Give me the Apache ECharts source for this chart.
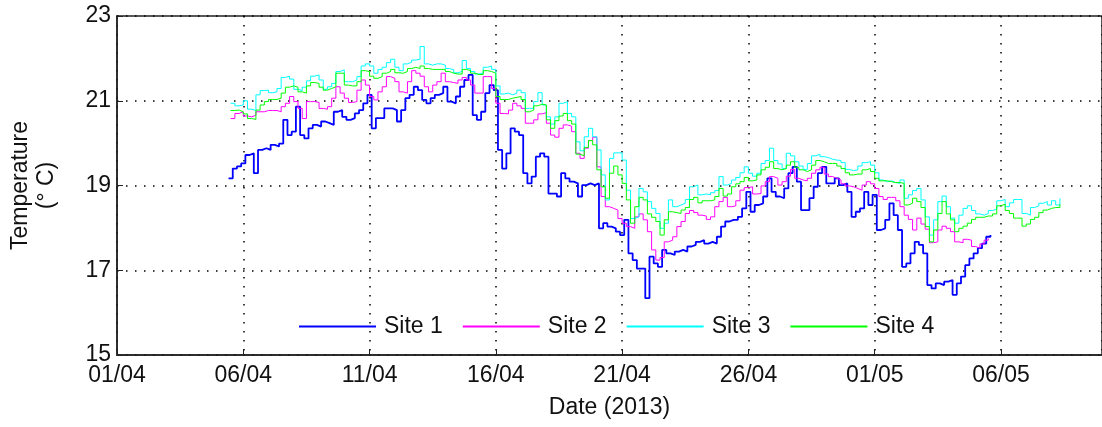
<!DOCTYPE html>
<html>
<head>
<meta charset="utf-8">
<script src="https://cdn.jsdelivr.net/npm/echarts@6/dist/echarts.min.js"></script>
<style>
  html, body { margin: 0; padding: 0; background: #fff; }
  #tempChart { width: 1102px; height: 427px; }
</style>
</head>
<body>
<div id="tempChart"></div>
<script>
const stepHours = 4;
const site1Start = '2013-04-05 10:00';
const site234Start = '2013-04-05 12:00';

const site1 = [
  19.17, 19.40, 19.45, 19.52, 19.72, 19.76, 19.29, 19.84, 19.88, 19.84, 19.96, 19.92, 19.99, 20.55, 20.19, 20.27, 20.86, 20.19, 20.11, 20.35,
  20.43, 20.39, 20.51, 20.47, 20.43, 20.74, 20.78, 20.62, 20.55, 20.59, 20.70, 20.78, 20.94, 21.14, 20.35, 20.59, 20.59, 20.82,
  20.82, 20.78, 20.51, 20.78, 21.06, 21.14, 21.33, 21.25, 21.02, 20.94, 21.06, 21.14, 21.18, 21.33, 20.98, 20.94, 21.10, 21.33, 21.49, 21.61,
  20.66, 20.55, 20.74, 21.18, 21.37, 21.25, 19.84, 19.40, 19.76, 20.35, 20.27, 20.19, 19.29, 19.05, 19.21, 19.68, 19.76, 19.68, 18.81,
  18.81, 18.74, 19.29, 19.17, 19.09, 19.05, 18.74, 19.01, 19.05, 19.01, 19.05, 17.99, 18.11, 18.03, 17.99, 17.91, 17.83, 18.19, 17.40, 17.24,
  17.04, 17.04, 16.34, 17.32, 17.16, 17.08, 17.48, 17.40, 17.36, 17.44, 17.48, 17.44, 17.56, 17.60, 17.67, 17.71, 17.63, 17.67, 17.63,
  17.79, 18.03, 18.15, 18.19, 18.19, 18.26, 18.46, 18.85, 18.38, 18.54, 18.58, 18.74, 19.17, 18.85, 18.74, 18.70, 18.93, 19.29, 19.44, 19.09,
  18.42, 18.42, 18.70, 18.97, 19.29, 19.44, 19.05, 19.05, 19.17, 19.01, 19.05, 18.85, 18.26, 18.38, 18.46, 18.85, 18.54, 18.78, 17.95,
  17.99, 18.19, 18.58, 18.30, 17.95, 17.08, 17.16, 17.40, 17.67, 17.60, 17.40, 16.65, 16.57, 16.69, 16.65, 16.73, 16.77, 16.42, 16.69, 16.85,
  17.12, 17.28, 17.40, 17.52, 17.63, 17.79, 17.83
];

const site2 = [
  20.58, 20.70, 20.74, 20.64, 20.62, 20.66, 20.74, 20.74, 20.77, 20.77, 20.77, 20.74, 20.86, 20.94, 21.10, 20.98, 20.82, 20.58, 20.98, 20.98,
  20.96, 20.82, 20.80, 20.86, 21.06, 21.33, 21.18, 21.06, 20.96, 20.98, 21.25, 21.49, 21.37, 21.10, 21.02, 21.21, 21.33, 21.57,
  21.53, 21.45, 21.21, 21.18, 21.45, 21.71, 21.65, 21.58, 21.33, 21.21, 21.37, 21.45, 21.65, 21.45, 21.43, 21.41, 21.49, 21.55, 21.49, 21.37,
  21.18, 21.18, 21.57, 21.57, 21.29, 20.94, 20.70, 20.69, 20.78, 20.94, 20.88, 20.82, 20.47, 20.47, 20.55, 20.69, 20.72, 20.47, 20.19,
  20.14, 20.35, 20.43, 20.40, 20.27, 19.76, 19.64, 19.88, 20.06, 20.14, 19.44, 18.74, 18.50, 18.46, 18.42, 18.22, 18.11, 18.03, 17.99, 18.26,
  18.33, 18.19, 17.91, 17.48, 17.24, 17.30, 17.67, 17.71, 17.79, 18.03, 18.15, 18.34, 18.41, 18.36, 18.30, 18.28, 18.20, 18.26, 18.50,
  18.62, 18.72, 18.50, 18.52, 18.64, 18.89, 18.95, 18.97, 18.80, 18.81, 18.99, 19.09, 19.21, 19.17, 19.01, 19.09, 19.22, 19.38, 19.17, 19.13,
  19.11, 19.17, 19.29, 19.37, 19.43, 19.27, 19.21, 19.17, 19.13, 19.04, 18.99, 18.97, 18.93, 18.89, 19.01, 19.09, 19.04, 18.93,
  18.74, 18.67, 18.72, 18.72, 18.64, 18.50, 18.30, 18.20, 17.95, 18.23, 18.09, 17.97, 17.65, 17.67, 17.95, 18.04, 17.99, 17.91, 17.67, 17.65,
  17.73, 17.71, 17.56, 17.52, 17.62, 17.71, 17.75
];

const site3 = [
  20.94, 20.88, 20.90, 21.00, 20.80, 20.77, 21.14, 21.24, 21.25, 21.19, 21.21, 21.29, 21.55, 21.58, 21.51, 21.27, 21.24, 21.32, 21.47, 21.58,
  21.61, 21.49, 21.27, 21.33, 21.41, 21.69, 21.73, 21.45, 21.45, 21.49, 21.57, 21.82, 21.87, 21.82, 21.65, 21.74, 21.79, 21.90,
  21.98, 21.79, 21.71, 21.87, 21.91, 21.96, 21.98, 22.28, 21.87, 21.84, 21.87, 21.87, 21.84, 21.76, 21.73, 21.66, 21.69, 21.95, 21.76, 21.69,
  21.63, 21.65, 21.79, 21.82, 21.74, 21.35, 21.16, 21.18, 21.14, 21.18, 21.25, 21.19, 20.82, 20.82, 20.98, 21.19, 20.90, 20.62, 20.45,
  20.62, 20.94, 20.98, 20.70, 20.62, 20.03, 19.82, 20.15, 20.35, 20.15, 19.84, 19.25, 18.66, 19.64, 19.77, 19.77, 19.60, 18.89, 18.22, 18.26,
  18.93, 18.85, 18.62, 18.46, 18.34, 17.99, 18.11, 18.66, 18.50, 18.54, 18.58, 18.67, 18.97, 19.01, 18.78, 18.80, 18.78, 18.83, 18.88,
  19.21, 19.01, 19.05, 19.13, 19.19, 19.30, 19.44, 19.29, 19.22, 19.29, 19.52, 19.59, 19.88, 19.59, 19.51, 19.40, 19.76, 19.70, 19.56, 19.46,
  19.38, 19.52, 19.70, 19.74, 19.68, 19.66, 19.62, 19.60, 19.59, 19.54, 19.38, 19.35, 19.37, 19.46, 19.54, 19.56, 19.48, 19.30,
  19.13, 19.09, 19.11, 19.07, 19.05, 19.13, 18.70, 18.78, 18.88, 18.93, 18.66, 18.26, 17.83, 18.19, 18.62, 18.75, 18.50, 18.23, 18.11, 18.30,
  18.46, 18.52, 18.41, 18.33, 18.30, 18.34, 18.41, 18.44, 18.64, 18.67, 18.50, 18.59, 18.67, 18.67, 18.34, 18.30, 18.48, 18.52, 18.58, 18.62,
  18.54, 18.64, 18.54, 18.70
];

const site4 = [
  20.77, 20.78, 20.74, 20.69, 20.58, 20.56, 20.78, 20.90, 20.98, 21.03, 21.03, 21.06, 21.18, 21.32, 21.35, 21.32, 21.21, 21.18, 21.35, 21.43,
  21.41, 21.32, 21.25, 21.29, 21.33, 21.65, 21.65, 21.37, 21.35, 21.35, 21.45, 21.71, 21.69, 21.58, 21.53, 21.57, 21.65, 21.69,
  21.74, 21.66, 21.65, 21.69, 21.76, 21.79, 21.76, 21.82, 21.76, 21.74, 21.74, 21.74, 21.74, 21.69, 21.65, 21.63, 21.63, 21.74, 21.71, 21.65,
  21.62, 21.62, 21.71, 21.69, 21.65, 21.10, 21.03, 21.03, 21.06, 21.08, 21.10, 21.03, 20.74, 20.78, 20.88, 20.92, 20.90, 20.55, 20.35,
  20.53, 20.64, 20.70, 20.53, 20.45, 19.74, 19.70, 19.90, 20.06, 19.96, 19.37, 18.97, 18.70, 19.29, 19.46, 19.25, 19.05, 18.66, 18.11, 18.50,
  18.72, 18.66, 18.33, 18.25, 18.15, 17.83, 18.19, 18.38, 18.36, 18.34, 18.42, 18.48, 18.67, 18.72, 18.59, 18.64, 18.64, 18.66, 18.74,
  18.93, 18.75, 18.80, 18.97, 19.04, 19.09, 19.19, 19.11, 19.13, 19.25, 19.37, 19.43, 19.56, 19.40, 19.37, 19.40, 19.48, 19.56, 19.43, 19.37,
  19.33, 19.37, 19.48, 19.59, 19.56, 19.52, 19.52, 19.52, 19.46, 19.40, 19.30, 19.25, 19.27, 19.27, 19.37, 19.40, 19.33, 19.17,
  19.11, 19.11, 19.09, 19.07, 19.07, 19.05, 18.54, 18.58, 18.70, 18.62, 18.48, 18.03, 17.67, 17.95, 18.34, 18.62, 18.33, 18.19, 17.91, 17.99,
  18.04, 18.11, 18.20, 18.25, 18.25, 18.28, 18.28, 18.33, 18.52, 18.56, 18.41, 18.34, 18.23, 18.23, 18.04, 18.09, 18.20, 18.25, 18.36, 18.42,
  18.46, 18.48, 18.48, 18.56
];

const siteNames = ['Site 1', 'Site 2', 'Site 3', 'Site 4'];
const siteColors = ['#0000ff', '#ff00ff', '#00ffff', '#00ff00'];

// x axis is in days since 01/04/2013
const DAY = 86400000;
const origin = Date.UTC(2013, 3, 1);

function toDays(str) {
  const [d, t] = str.split(' ');
  const [Y, M, D] = d.split('-').map(Number);
  const [h, m] = t.split(':').map(Number);
  return (Date.UTC(Y, M - 1, D, h, m) - origin) / DAY;
}

function toPoints(start, values) {
  const t0 = toDays(start);
  return values.map((v, i) => [t0 + i * stepHours / 24, v]);
}

function dayLabel(v) {
  const dt = new Date(origin + v * DAY);
  const dd = String(dt.getUTCDate()).padStart(2, '0');
  const mm = String(dt.getUTCMonth() + 1).padStart(2, '0');
  return dd + '/' + mm;
}

const font = "'Liberation Sans', Arial, sans-serif";
const gridLine = { color: '#000', width: 1.5, type: [1.5, 7.5] };

const chart = echarts.init(document.getElementById('tempChart'));

const option = {
  animation: false,
  textStyle: { fontFamily: font },
  grid: {
    left: 117,
    right: -9,
    top: 16,
    bottom: 72,
    show: true,
    borderColor: '#222',
    borderWidth: 1.5,
    backgroundColor: 'transparent'
  },
  legend: {
    left: 294,
    top: 310,
    itemWidth: 77,
    itemHeight: 2,
    itemGap: 20,
    icon: 'rect',
    textStyle: { fontSize: 23, color: '#111', fontFamily: font, padding: [0, 0, 0, 3] },
    data: siteNames
  },
  xAxis: {
    type: 'value',
    min: 0,
    max: 39,
    interval: 5,
    name: 'Date (2013)',
    nameLocation: 'middle',
    nameGap: 41,
    nameTextStyle: { fontSize: 23, color: '#111' },
    axisLine: { lineStyle: { color: '#222', width: 1.5 } },
    axisTick: { inside: true, length: 6, lineStyle: { color: '#222' } },
    axisLabel: {
      fontSize: 23,
      color: '#111',
      margin: 9,
      showMaxLabel: false,
      formatter: (v) => (v % 5 === 0 && v < 39 ? dayLabel(v) : '')
    },
    splitLine: { show: true, lineStyle: gridLine }
  },
  yAxis: {
    type: 'value',
    min: 15,
    max: 23,
    interval: 2,
    name: 'Temperature\n(° C)',
    nameLocation: 'middle',
    nameGap: 57,
    nameRotate: 90,
    nameTextStyle: { fontSize: 23, color: '#111', lineHeight: 26, align: 'center' },
    axisLine: { show: true, lineStyle: { color: '#222', width: 1.5 } },
    axisTick: { show: true, inside: true, length: 6, lineStyle: { color: '#222' } },
    axisLabel: { fontSize: 23, color: '#111', margin: 6 },
    splitLine: { show: true, lineStyle: gridLine }
  },
  series: [
    { name: siteNames[0], data: toPoints(site1Start, site1), width: 1.8 },
    { name: siteNames[1], data: toPoints(site234Start, site2), width: 1 },
    { name: siteNames[2], data: toPoints(site234Start, site3), width: 1 },
    { name: siteNames[3], data: toPoints(site234Start, site4), width: 1 }
  ].map((s, i) => ({
    name: s.name,
    type: 'line',
    step: 'end',
    data: s.data,
    showSymbol: false,
    color: siteColors[i],
    lineStyle: { color: siteColors[i], width: s.width }
  }))
};

chart.setOption(option);
</script>
</body>
</html>
